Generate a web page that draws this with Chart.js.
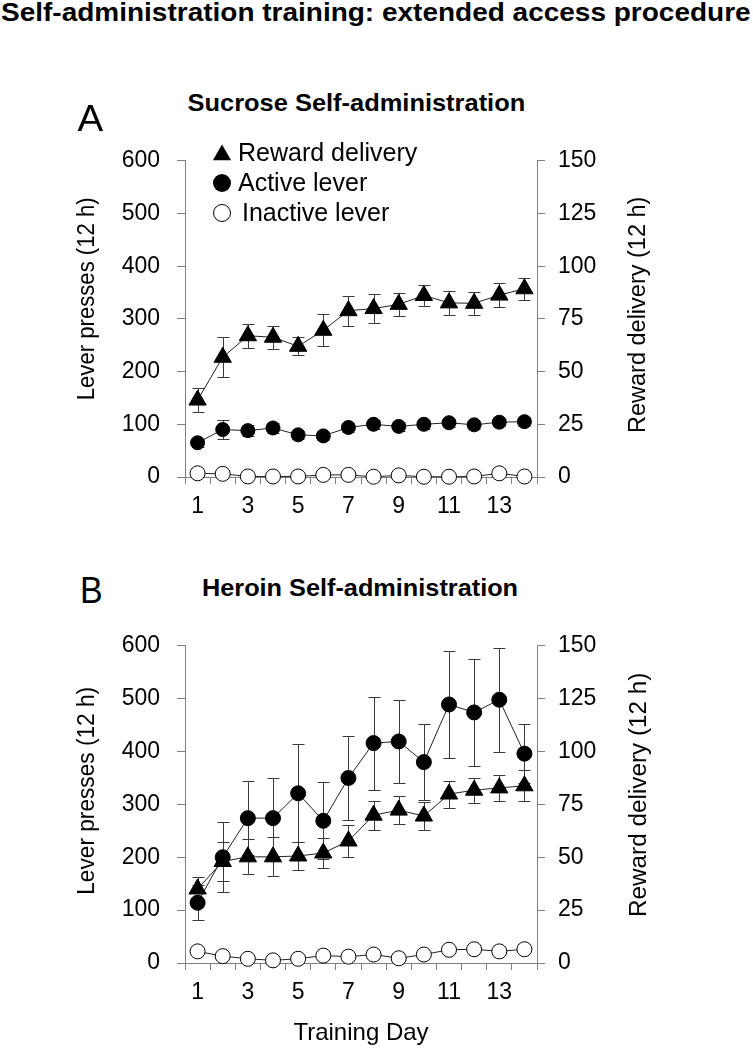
<!DOCTYPE html>
<html>
<head>
<meta charset="utf-8">
<script src="https://cdn.jsdelivr.net/npm/chart.js@4.4.1/dist/chart.umd.min.js"></script>
<style>
  html, body { margin: 0; padding: 0; background: #fff; }
  body { width: 753px; height: 1050px; position: relative; overflow: hidden; font-family: 'Liberation Sans', Arial, sans-serif; }
  .panel { position: absolute; left: 0; }
  .txt { position: absolute; white-space: nowrap; line-height: 1.2; color: #000; transform-origin: 50% 50%; }
</style>
</head>
<body>
<div class="panel" style="top:130px"><canvas id="chartA" width="753" height="410"></canvas></div>
<div class="panel" style="top:615px"><canvas id="chartB" width="753" height="435"></canvas></div>
<script>
// ---------- data ----------
const days = ['1','2','3','4','5','6','7','8','9','10','11','12','13','14'];
const leverTicks = [0, 100, 200, 300, 400, 500, 600];
const rewardTicks = [0, 25, 50, 75, 100, 125, 150];

// Panel A: sucrose
const sucroseReward      = [36.5, 56.8, 67.0, 66.3, 62.0, 69.6, 78.9, 79.9, 81.9, 86.1, 82.6, 82.4, 86.3, 89.3];
const sucroseRewardErr   = [5.5, 9.5, 5.7, 5.5, 4.3, 7.6, 7.1, 6.9, 5.6, 5.1, 5.6, 5.4, 5.5, 5.3];
const sucroseActive      = [65, 90, 88, 93, 80, 78, 94, 100, 96, 100, 103, 99, 104, 105];
const sucroseActiveErr   = [8, 18, 10, 10, 8, 8, 9, 8, 8, 8, 8, 8, 8, 8];
const sucroseInactive    = [7, 6, 1, 1, 1, 4, 4, 0.5, 3, 0.5, 0.5, 1, 7, 1];
const sucroseInactiveErr = [3, 3, 1, 1, 1, 2, 2, 1, 2, 1, 1, 1, 3, 1];

// Panel B: heroin
const heroinReward      = [35.0, 48.0, 50.2, 50.2, 50.6, 52.0, 57.7, 69.9, 72.3, 69.5, 79.9, 81.7, 82.8, 83.8];
const heroinRewardErr   = [5.8, 9.3, 8.3, 9.2, 6.4, 7.3, 7.5, 6.9, 6.6, 6.8, 6.4, 5.9, 6.3, 7.3];
const heroinActive      = [114, 200, 274, 274, 321, 269, 350, 416, 419, 380, 489, 474, 498, 396];
const heroinActiveErr   = [33, 66, 70, 76, 93, 73, 80, 88, 79, 72, 102, 101, 98, 56];
const heroinInactive    = [22, 13, 8, 5, 8, 14, 12, 16, 9, 16, 25, 26, 22, 26];
const heroinInactiveErr = [4, 4, 2, 2, 2, 3, 3, 3, 2, 3, 4, 4, 4, 4];

const legendLabels = ['Reward delivery', 'Active lever', 'Inactive lever'];

// ---------- styling ----------
const FONT = "'Liberation Sans', Arial, sans-serif";
Chart.defaults.font.family = FONT;
Chart.defaults.color = '#000';
const AXIS = '#808080';
const LINE = '#222';

const errorBars = {
  id: 'errorBars',
  beforeDatasetsDraw(chart) {
    const ctx = chart.ctx;
    chart.data.datasets.forEach((ds, di) => {
      if (!ds.errors) return;
      const meta = chart.getDatasetMeta(di);
      const ys = chart.scales[ds.yAxisID];
      ctx.save();
      ctx.strokeStyle = '#3a3a3a';
      ctx.lineWidth = 1;
      meta.data.forEach((pt, i) => {
        const v = ds.data[i], e = ds.errors[i];
        const x = Math.round(pt.x) + 0.5;
        const yt = Math.round(ys.getPixelForValue(v + e)) + 0.5;
        const yb = Math.round(ys.getPixelForValue(v - e)) + 0.5;
        ctx.beginPath();
        ctx.moveTo(x, yt); ctx.lineTo(x, yb);
        ctx.moveTo(x - 6, yt); ctx.lineTo(x + 6, yt);
        ctx.moveTo(x - 6, yb); ctx.lineTo(x + 6, yb);
        ctx.stroke();
      });
      ctx.restore();
    });
  }
};

const customLegend = {
  id: 'customLegend',
  afterDraw(chart, args, opts) {
    if (!opts || !opts.show) return;
    const ctx = chart.ctx;
    ctx.save();
    const mx = 222;
    const rows = [23, 53, 83];
    // triangle
    const r = 10.5;
    ctx.fillStyle = '#000'; ctx.strokeStyle = '#000'; ctx.lineWidth = 1;
    ctx.beginPath();
    for (let k = 0; k < 3; k++) {
      const a = k * 2 * Math.PI / 3;
      const px = mx + Math.sin(a) * r, py = rows[0] + 2 - Math.cos(a) * r;
      if (k === 0) ctx.moveTo(px, py); else ctx.lineTo(px, py);
    }
    ctx.closePath(); ctx.fill();
    // filled circle
    ctx.beginPath(); ctx.arc(mx, rows[1], 9, 0, 2 * Math.PI); ctx.fill();
    // open circle
    ctx.beginPath(); ctx.arc(mx, rows[2], 8.5, 0, 2 * Math.PI);
    ctx.fillStyle = '#fff'; ctx.fill(); ctx.stroke();
    ctx.fillStyle = '#000';
    ctx.font = '25px ' + FONT;
    ctx.textBaseline = 'middle';
    ctx.textAlign = 'left';
    ctx.fillText(legendLabels[0], 238, rows[0] + 1);
    ctx.fillText(legendLabels[1], 238, rows[1] + 1);
    ctx.fillText(legendLabels[2], 242, rows[2] + 1);
    ctx.restore();
  }
};

function makeChart(id, topPad, xHeight, reward, rewardErr, active, activeErr, inactive, inactiveErr, circleR, showLegend, xTitle) {
  return new Chart(document.getElementById(id), {
    type: 'line',
    data: {
      labels: days,
      datasets: [
        { label: legendLabels[0], data: reward, errors: rewardErr, yAxisID: 'y1',
          pointStyle: 'triangle', pointRadius: 10, pointBackgroundColor: '#000', pointBorderColor: '#000', pointBorderWidth: 1,
          borderColor: LINE, borderWidth: 1, tension: 0, clip: false, fill: false },
        { label: legendLabels[1], data: active, errors: activeErr, yAxisID: 'y',
          pointStyle: 'circle', pointRadius: circleR, pointBackgroundColor: '#000', pointBorderColor: '#000', pointBorderWidth: 1,
          borderColor: LINE, borderWidth: 1, tension: 0, clip: false, fill: false },
        { label: legendLabels[2], data: inactive, errors: inactiveErr, yAxisID: 'y',
          pointStyle: 'circle', pointRadius: 7.5, pointBackgroundColor: '#fff', pointBorderColor: '#000', pointBorderWidth: 1,
          borderColor: LINE, borderWidth: 1, tension: 0, clip: false, fill: false }
      ]
    },
    options: {
      responsive: false,
      animation: false,
      events: [],
      layout: { padding: { top: topPad, left: 0, right: 0, bottom: 0 } },
      plugins: {
        legend: { display: false },
        tooltip: { enabled: false },
        customLegend: { show: showLegend }
      },
      scales: {
        x: {
          type: 'category',
          offset: true,
          grid: { offset: true, drawOnChartArea: false, drawTicks: true, tickLength: 7, color: AXIS },
          border: { display: true, color: AXIS, width: 1 },
          ticks: {
            autoSkip: false, maxRotation: 0, minRotation: 0, padding: 9,
            font: { size: 23 }, color: '#000',
            callback: function (v, i) { return i % 2 === 0 ? this.getLabelForValue(v) : ''; }
          },
          title: { display: !!xTitle, text: xTitle || '', font: { size: 24 }, color: '#000', padding: { top: 0, bottom: 2 } },
          afterFit: s => { s.height = xHeight; }
        },
        y: {
          position: 'left', min: leverTicks[0], max: leverTicks[leverTicks.length - 1],
          grid: { drawOnChartArea: false, drawTicks: true, tickLength: 8, color: AXIS },
          border: { display: true, color: AXIS, width: 1 },
          ticks: { stepSize: leverTicks[1] - leverTicks[0], padding: 17, font: { size: 23 }, color: '#000' },
          afterFit: s => { s.width = 185; }
        },
        y1: {
          position: 'right', min: rewardTicks[0], max: rewardTicks[rewardTicks.length - 1],
          grid: { drawOnChartArea: false, drawTicks: true, tickLength: 8, color: AXIS },
          border: { display: true, color: AXIS, width: 1 },
          ticks: { stepSize: rewardTicks[1] - rewardTicks[0], padding: 13, font: { size: 23 }, color: '#000' },
          afterFit: s => { s.width = 216; }
        }
      }
    },
    plugins: [errorBars, customLegend]
  });
}

makeChart('chartA', 29, 63, sucroseReward, sucroseRewardErr, sucroseActive, sucroseActiveErr, sucroseInactive, sucroseInactiveErr, 7, true, null);
makeChart('chartB', 28, 87, heroinReward, heroinRewardErr, heroinActive, heroinActiveErr, heroinInactive, heroinInactiveErr, 7.5, false, 'Training Day');

// ---------- HTML text ----------
function place(text, cx, cy, size, target, rot, bold) {
  const d = document.createElement('div');
  d.className = 'txt';
  d.textContent = text;
  d.style.fontSize = size + 'px';
  if (bold) d.style.fontWeight = 'bold';
  document.body.appendChild(d);
  const w = d.offsetWidth, h = d.offsetHeight;
  const s = target ? target / w : 1;
  d.style.left = (cx - w / 2) + 'px';
  d.style.top = (cy - h / 2) + 'px';
  d.style.transform = 'rotate(' + (rot || 0) + 'deg) scaleX(' + s + ')';
}
place('Self-administration training: extended access procedure', 376, 11.5, 25, 750, 0, true);
place('A', 90, 119, 37, 26, 0, false);
place('Sucrose Self-administration', 356, 103.7, 24, 338, 0, true);
place('B', 91, 591, 37, 23, 0, false);
place('Heroin Self-administration', 360, 588.7, 24, 316, 0, true);
place('Lever presses (12 h)', 86, 299, 23, 203, -90, false);
place('Reward delivery (12 h)', 637, 315, 23, 236, -90, false);
place('Lever presses (12 h)', 86, 791, 23, 208, -90, false);
place('Reward delivery (12 h)', 638, 795, 23, 244, -90, false);
</script>
</body>
</html>
